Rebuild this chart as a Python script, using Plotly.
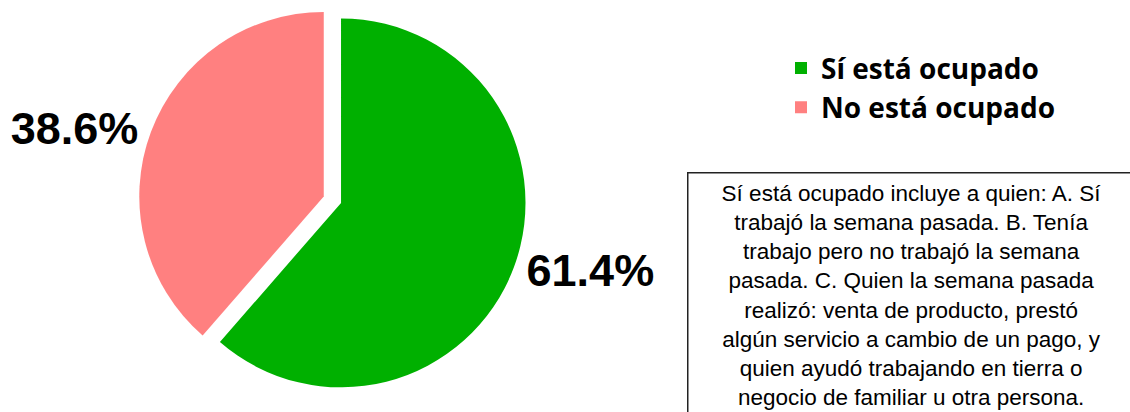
import plotly.graph_objects as go

labels = ["Sí está ocupado", "No está ocupado"]
values = [61.4, 38.6]
colors = ["#00B000", "#FF8080"]
pulls = [0, 0.1]
note_lines = [
    "Sí está ocupado incluye a quien: A. Sí",
    "trabajó la semana pasada. B. Tenía",
    "trabajo pero no trabajó la semana",
    "pasada. C. Quien la semana pasada",
    "realizó: venta de producto, prestó",
    "algún servicio a cambio de un pago, y",
    "quien ayudó trabajando en tierra o",
    "negocio de familiar u otra persona.",
]

fig = go.Figure(
    go.Pie(
        labels=labels,
        values=values,
        marker=dict(colors=colors, line=dict(width=0)),
        pull=pulls,
        sort=False,
        direction="clockwise",
        rotation=0,
        textposition="outside",
        texttemplate="%{percent:.1%}",
        textfont=dict(family="Liberation Sans, Arial, sans-serif", size=45, color="black", weight="bold"),
        domain=dict(x=[0.0518, 0.5518], y=[0.015, 1.0]),
        showlegend=True,
    )
)

fig.add_annotation(
    xref="paper", yref="paper",
    x=687 / 1130, y=1 - 172 / 412,
    xanchor="left", yanchor="top",
    text="<br>".join(note_lines),
    showarrow=False,
    align="center",
    valign="middle",
    width=446, height=244,
    bordercolor="#222222", borderwidth=1.5, borderpad=0,
    bgcolor="white",
    font=dict(family="Liberation Sans, Arial, sans-serif", size=22.5, color="black"),
)

fig.update_layout(
    width=1130, height=412,
    margin=dict(l=0, r=0, t=0, b=0, autoexpand=False),
    paper_bgcolor="white",
    plot_bgcolor="white",
    legend=dict(
        x=781 / 1130, y=0.895,
        xanchor="left", yanchor="top",
        font=dict(family="Open Sans, sans-serif", size=28, color="black", weight="bold"),
        bgcolor="rgba(0,0,0,0)",
    ),
)

fig.write_html(
    "out.html",
    config={"displayModeBar": False},
    post_script="document.body.style.margin='0';",
)
